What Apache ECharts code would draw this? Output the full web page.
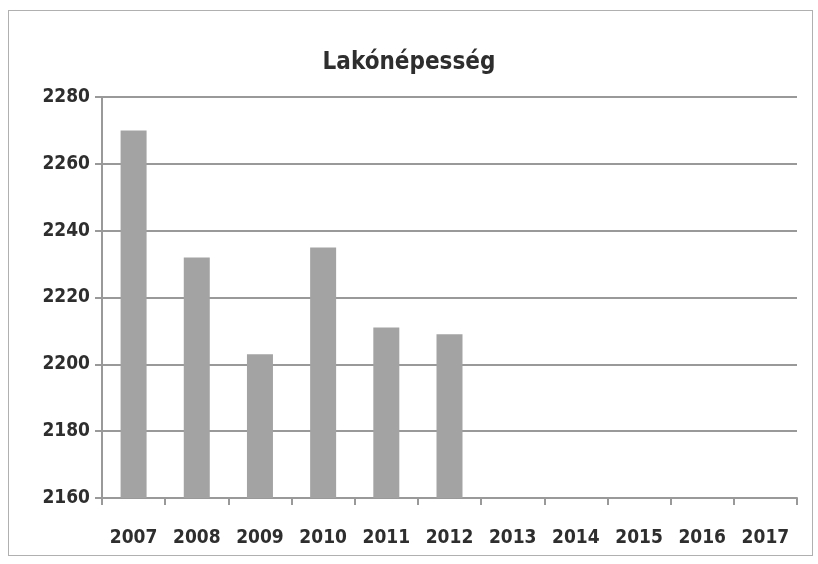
<!DOCTYPE html>
<html>
<head>
<meta charset="utf-8">
<script src="https://cdn.jsdelivr.net/npm/echarts@6/dist/echarts.min.js"></script>
<style>
  html, body { margin: 0; padding: 0; background: #fff; }
  #frame { position: absolute; left: 8px; top: 10px; width: 803px; height: 544px; border: 1px solid #b0b0b0; }
  #chart { width: 818px; height: 564px; }
</style>
</head>
<body>
<div id="frame"></div>
<div id="chart"></div>
<script>
  // évek és lakónépesség
  let years = ['2007', '2008', '2009', '2010', '2011', '2012', '2013', '2014', '2015', '2016', '2017']
  let population = [2270, 2232, 2203, 2235, 2211, 2209, null, null, null, null, null]

  let chart = echarts.init(document.getElementById('chart'))

  let labelFont = {
    color: '#2e2e2e',
    fontFamily: 'DejaVu Sans Condensed',
    fontWeight: 'bold',
    fontSize: 19
  }

  chart.setOption({
    animation: false,
    title: {
      text: 'Lakónépesség',
      left: 'center',
      top: 46,
      textStyle: {
        color: '#2e2e2e',
        fontFamily: 'DejaVu Sans Condensed',
        fontWeight: 'bold',
        fontSize: 24
      }
    },
    grid: {
      left: 102,
      right: 21,
      top: 97,
      bottom: 66
    },
    xAxis: {
      type: 'category',
      data: years,
      axisLine: {lineStyle: {color: '#999', width: 2}},
      axisTick: {show: true, length: 7, lineStyle: {color: '#999', width: 2}},
      axisLabel: Object.assign({margin: 31}, labelFont)
    },
    yAxis: {
      type: 'value',
      min: 2160,
      max: 2280,
      interval: 20,
      axisLine: {show: true, lineStyle: {color: '#999', width: 2}},
      axisTick: {show: true, length: 7, lineStyle: {color: '#999', width: 2}},
      axisLabel: Object.assign({
        margin: 12,
        formatter: function (v) {
          return String(v)
        }
      }, labelFont),
      splitLine: {lineStyle: {color: '#999', width: 2}}
    },
    series: [
      {
        type: 'bar',
        data: population,
        barWidth: 26,
        itemStyle: {color: '#a3a3a3'}
      }
    ]
  })
</script>
</body>
</html>
